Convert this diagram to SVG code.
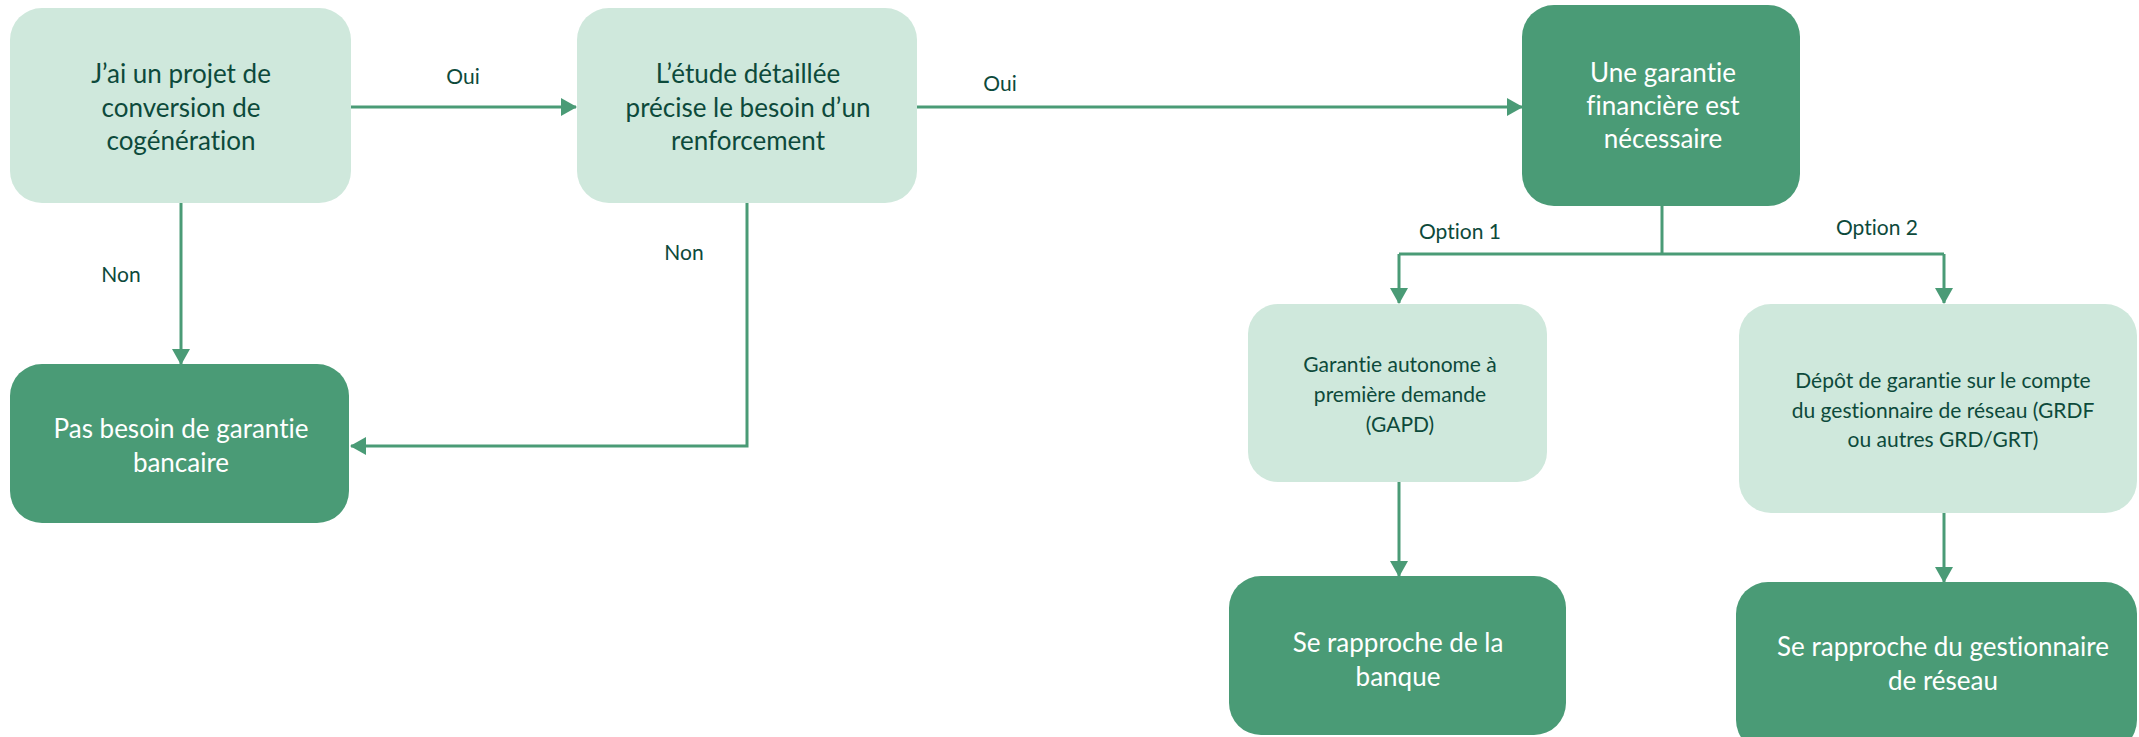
<svg xmlns="http://www.w3.org/2000/svg" width="2139" height="737" viewBox="0 0 2139 737">
<style>
.light{fill:#CFE8DC}
.dark{fill:#4A9B76}
.t{font-family:Lato,"Liberation Sans",sans-serif;text-anchor:middle;font-variant-ligatures:none}
.tl{fill:#0D4A3B;font-size:26px}
.ts{fill:#0D4A3B;font-size:21px}
.tw{fill:#FFFFFF;font-size:26px}
.lab{font-family:Lato,"Liberation Sans",sans-serif;font-size:21px;fill:#0D4A3B;text-anchor:middle;font-variant-ligatures:none}
.c{fill:none;stroke:#4A9B76;stroke-width:3}
</style>
<defs>
<marker id="ah" markerWidth="16" markerHeight="18" refX="15" refY="9" orient="auto" markerUnits="userSpaceOnUse">
<path d="M0,0 L16,9 L0,18 Z" fill="#4A9B76"/>
</marker>
</defs>
<rect width="2139" height="737" fill="#FFFFFF"/>
<g id="connectors">
<path class="c" d="M351,107 H576" marker-end="url(#ah)"/>
<path class="c" d="M917,107 H1522" marker-end="url(#ah)"/>
<path class="c" d="M181,203 V364" marker-end="url(#ah)"/>
<path class="c" d="M747,203 V446 H351" marker-end="url(#ah)"/>
<path class="c" d="M1662,206 V254"/>
<path class="c" d="M1399,254 H1944"/>
<path class="c" d="M1399,254 V303" marker-end="url(#ah)"/>
<path class="c" d="M1944,254 V303" marker-end="url(#ah)"/>
<path class="c" d="M1399,482 V576" marker-end="url(#ah)"/>
<path class="c" d="M1944,513 V582" marker-end="url(#ah)"/>
<text class="lab" x="463" y="84">Oui</text>
<text class="lab" x="1000" y="91">Oui</text>
<text class="lab" x="121" y="282">Non</text>
<text class="lab" x="684" y="260">Non</text>
<text class="lab" x="1460" y="239">Option 1</text>
<text class="lab" x="1877" y="235">Option 2</text>
</g>
<g id="n1">
<rect class="light" x="10" y="8" width="341" height="195" rx="32"/>
<text class="t tl" x="181" y="83">J’ai un projet de</text>
<text class="t tl" x="181" y="117">conversion de</text>
<text class="t tl" x="181" y="150">cogénération</text>
</g>
<g id="n2">
<rect class="light" x="577" y="8" width="340" height="195" rx="32"/>
<text class="t tl" x="748" y="83">L’étude détaillée</text>
<text class="t tl" x="748" y="117">précise le besoin d’un</text>
<text class="t tl" x="748" y="150">renforcement</text>
</g>
<g id="n3">
<rect class="dark" x="1522" y="5" width="278" height="201" rx="32"/>
<text class="t tw" x="1663" y="82">Une garantie</text>
<text class="t tw" x="1663" y="115">financière est</text>
<text class="t tw" x="1663" y="148">nécessaire</text>
</g>
<g id="n4">
<rect class="dark" x="10" y="364" width="339" height="159" rx="32"/>
<text class="t tw" x="181" y="438">Pas besoin de garantie</text>
<text class="t tw" x="181" y="472">bancaire</text>
</g>
<g id="n5">
<rect class="light" x="1248" y="304" width="299" height="178" rx="30"/>
<text class="t ts" x="1400" y="372">Garantie autonome à</text>
<text class="t ts" x="1400" y="402">première demande</text>
<text class="t ts" x="1400" y="432">(GAPD)</text>
</g>
<g id="n6">
<rect class="light" x="1739" y="304" width="398" height="209" rx="32"/>
<text class="t ts" x="1943" y="388">Dépôt de garantie sur le compte</text>
<text class="t ts" x="1943" y="418">du gestionnaire de réseau (GRDF</text>
<text class="t ts" x="1943" y="447">ou autres GRD/GRT)</text>
</g>
<g id="n7">
<rect class="dark" x="1229" y="576" width="337" height="159" rx="32"/>
<text class="t tw" x="1398" y="652">Se rapproche de la</text>
<text class="t tw" x="1398" y="686">banque</text>
</g>
<g id="n8">
<rect class="dark" x="1736" y="582" width="401" height="170" rx="32"/>
<text class="t tw" x="1943" y="656">Se rapproche du gestionnaire</text>
<text class="t tw" x="1943" y="690">de réseau</text>
</g>
</svg>
